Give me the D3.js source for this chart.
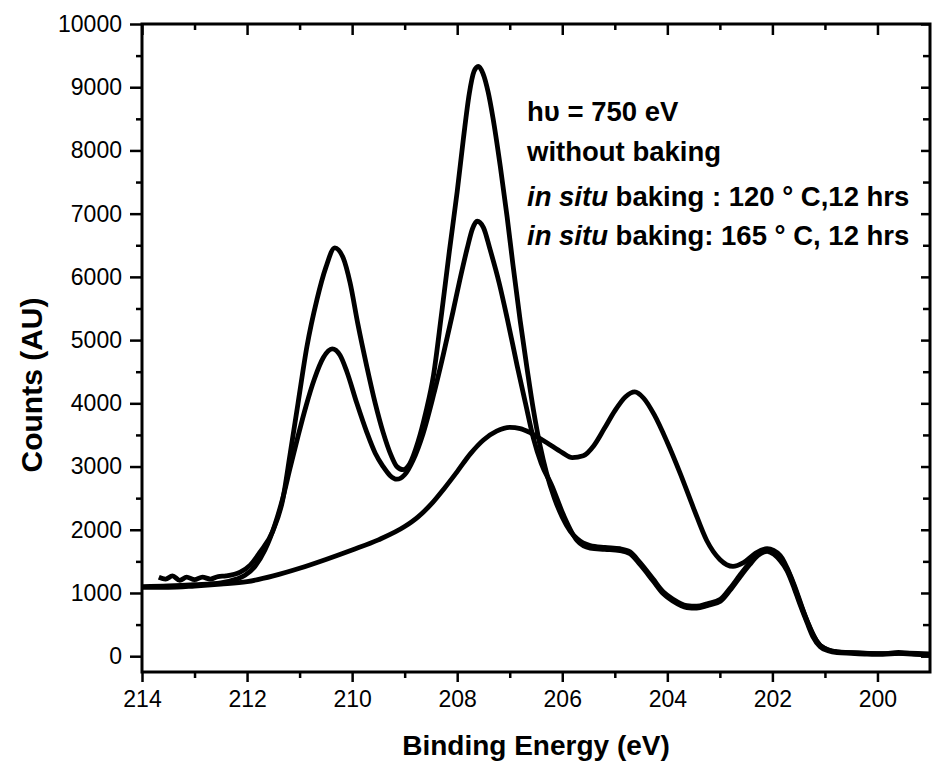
<!DOCTYPE html>
<html>
<head>
<meta charset="utf-8">
<script src="https://cdn.jsdelivr.net/npm/d3@7"></script>
<style>
  body { margin: 0; background: #fff; }
  svg { display: block; font-family: "Liberation Sans", Arial, sans-serif; }
</style>
</head>
<body>
<div class="spectrum"></div>
<script>
// Spectra: binding energy (eV) and counts.
var energyWithout = [214.0, 213.5, 213.0, 212.5, 212.0, 211.5, 211.0, 210.5, 210.0, 209.5, 209.0, 208.75, 208.5, 208.25,
  208.0, 207.75, 207.5, 207.25, 207.0, 206.8, 206.6, 206.3, 206.0, 205.81, 205.6, 205.4, 205.2, 205.0, 204.8, 204.62,
  204.45, 204.25, 204.0, 203.75, 203.5, 203.25, 203.0, 202.75, 202.55, 202.3, 202.1, 201.85, 201.61, 201.34, 201.09,
  200.77, 200.3, 199.8, 199.4, 199.0];
var countsWithout = [1090, 1090, 1110, 1140, 1180, 1270, 1390, 1530, 1680, 1840, 2050, 2200, 2400, 2650,
  2920, 3200, 3420, 3560, 3620, 3600, 3530, 3380, 3220, 3140, 3170, 3330, 3600, 3880, 4100, 4180,
  4080, 3820, 3380, 2880, 2340, 1830, 1530, 1420, 1480, 1640, 1700, 1590, 1180, 560, 170,
  70, 50, 40, 50, 30];

var energy120 = [214.0, 213.5, 213.0, 212.5, 212.2, 212.04, 211.85, 211.66, 211.47, 211.32, 211.18, 211.03, 210.88, 210.72,
  210.55, 210.38, 210.23, 210.1, 209.91, 209.72, 209.56, 209.41, 209.28, 209.15, 209.0, 208.84, 208.65, 208.46, 208.27,
  208.08, 207.95, 207.81, 207.71, 207.62, 207.5, 207.38, 207.2, 207.05, 206.86, 206.7, 206.55, 206.4, 206.2, 205.98, 205.72,
  205.47, 205.19, 204.9, 204.71, 204.52, 204.27, 204.08, 203.89, 203.63, 203.44, 203.24, 202.99, 202.81, 202.62, 202.43,
  202.28, 202.1, 201.97, 201.85, 201.72, 201.61, 201.48, 201.34, 201.23, 201.09, 200.94, 200.77, 200.5, 200.2, 199.9,
  199.6, 199.3, 199.0];
var counts120 = [1100, 1110, 1130, 1160, 1220, 1280, 1420, 1680, 2080, 2500, 2980, 3480, 3950, 4380,
  4720, 4860, 4760, 4500, 4000, 3540, 3210, 3000, 2860, 2800, 2870, 3100, 3520, 4100, 4750,
  5450, 5950, 6450, 6760, 6880, 6780, 6450, 5900, 5350, 4600, 4000, 3450, 3050, 2700, 2240, 1830,
  1710, 1690, 1670, 1620, 1450, 1190, 990, 870, 770, 760, 800, 870, 1040, 1250, 1450,
  1590, 1660, 1610, 1510, 1350, 1130, 830, 530, 310, 150, 85, 55, 45, 35, 30,
  45, 30, 25];

var energy165 = [213.68, 213.55, 213.42, 213.28, 213.15, 213.0, 212.85, 212.7, 212.55, 212.4, 212.13, 211.94, 211.75,
  211.51, 211.32, 211.18, 211.03, 210.86, 210.67, 210.5, 210.33, 210.17, 210.04, 209.89, 209.72, 209.56, 209.41, 209.26,
  209.15, 209.03, 208.9, 208.75, 208.6, 208.45, 208.3, 208.15, 208.0, 207.88, 207.77, 207.68, 207.6, 207.51, 207.41,
  207.32, 207.18, 207.05, 206.94, 206.8, 206.67, 206.55, 206.42, 206.3, 206.15, 206.0, 205.85, 205.72, 205.47, 205.19, 204.9,
  204.71, 204.52, 204.27, 204.08, 203.89, 203.63, 203.44, 203.24, 202.99, 202.81, 202.62, 202.43, 202.28, 202.1, 201.97,
  201.85, 201.72, 201.61, 201.48, 201.34, 201.23, 201.09, 200.94, 200.77, 200.5, 200.2, 199.9, 199.6, 199.3, 199.0];
var counts165 = [1250, 1220, 1270, 1200, 1250, 1210, 1250, 1220, 1260, 1270, 1330, 1440, 1650,
  1980, 2480, 3200, 4000, 4900, 5640, 6150, 6460, 6300, 5910, 5250, 4580, 4000, 3540, 3180,
  3000, 2950, 3050, 3380, 3850, 4450, 5400, 6400, 7350, 8200, 8900, 9250, 9330, 9220, 8920,
  8520, 7750, 6950, 6200, 5300, 4550, 3900, 3320, 2900, 2500, 2200, 1980, 1860, 1750, 1720, 1700,
  1650, 1480, 1220, 1020, 900, 800, 790, 830, 900, 1070, 1280, 1480, 1620, 1690, 1640,
  1540, 1380, 1160, 860, 560, 340, 170, 100, 70, 55, 45, 40, 60, 40, 35];

var xMajorTicks = [214, 212, 210, 208, 206, 204, 202, 200];
var xMinorTicks = [213, 211, 209, 207, 205, 203, 201];
var yMajorTicks = [0, 1000, 2000, 3000, 4000, 5000, 6000, 7000, 8000, 9000, 10000];
var yMinorTicks = [500, 1500, 2500, 3500, 4500, 5500, 6500, 7500, 8500, 9500];

// Legend text only, each line split into [text, italic] pieces.
var legendLines = [
  [["h\u03c5 = 750 eV", false]],
  [["without baking", false]],
  [["in situ", true], [" baking : 120 \u00b0 C,12 hrs", false]],
  [["in situ", true], [" baking: 165 \u00b0 C, 12 hrs", false]]
];

var w = 932,
    h = 763;

// Plot frame edges (window.top is reserved, so use other names).
var plotLeft = 142, plotRight = 930, plotTop = 24, plotBottom = 672;

var svg = d3.select(".spectrum").append("svg")
  .attr("width", w)
  .attr("height", h);

var xScale = d3.scaleLinear()
  .domain([214, 199])
  .range([plotLeft, plotRight]);

var yScale = d3.scaleLinear()
  .domain([-250, 10000])
  .range([plotBottom, plotTop]);

// Draw the three spectra.
function zipSeries(energy, counts) {
  return energy.map(function(e, i) { return { e: e, c: counts[i] }; });
}

var line = d3.line()
  .x(function(d) { return xScale(d.e); })
  .y(function(d) { return yScale(d.c); })
  .curve(d3.curveMonotoneX);

var series = [
  zipSeries(energyWithout, countsWithout),
  zipSeries(energy120, counts120),
  zipSeries(energy165, counts165)
];

svg.append("defs").append("clipPath")
  .attr("id", "plotClip")
  .append("rect")
  .attr("x", plotLeft)
  .attr("y", plotTop)
  .attr("width", plotRight - plotLeft)
  .attr("height", plotBottom - plotTop);

svg.append("g")
  .attr("clip-path", "url(#plotClip)")
  .selectAll("path")
  .data(series)
  .enter()
  .append("path")
  .attr("d", line)
  .attr("fill", "none")
  .attr("stroke", "#000")
  .attr("stroke-width", 4.8)
  .attr("stroke-linejoin", "round");

// Axes: outward ticks on bottom/left, inward ticks on top/right.
function addAxis(axis, transform, labels) {
  var g = svg.append("g")
    .attr("transform", transform)
    .call(axis);
  g.select(".domain").remove();
  g.selectAll(".tick line").attr("stroke", "#000").attr("stroke-width", 2.5);
  g.selectAll(".tick text")
    .attr("fill", "#000")
    .style("font-size", "23px")
    .style("font-family", "'Liberation Sans', Arial, sans-serif");
  if (!labels) g.selectAll(".tick text").remove();
  return g;
}

addAxis(d3.axisBottom(xScale).tickValues(xMajorTicks).tickSize(10).tickPadding(9).tickFormat(d3.format("d")),
  "translate(0," + plotBottom + ")", true);
addAxis(d3.axisBottom(xScale).tickValues(xMinorTicks).tickSize(6), "translate(0," + plotBottom + ")", false);
addAxis(d3.axisBottom(xScale).tickValues(xMajorTicks).tickSize(11), "translate(0," + plotTop + ")", false);
addAxis(d3.axisBottom(xScale).tickValues(xMinorTicks).tickSize(6), "translate(0," + plotTop + ")", false);

addAxis(d3.axisLeft(yScale).tickValues(yMajorTicks).tickSize(12).tickPadding(8).tickFormat(d3.format("d")),
  "translate(" + plotLeft + ",0)", true);
addAxis(d3.axisLeft(yScale).tickValues(yMinorTicks).tickSize(6), "translate(" + plotLeft + ",0)", false);
addAxis(d3.axisLeft(yScale).tickValues(yMajorTicks).tickSize(9), "translate(" + plotRight + ",0)", false);
addAxis(d3.axisLeft(yScale).tickValues(yMinorTicks).tickSize(7), "translate(" + plotRight + ",0)", false);

// Frame.
svg.append("rect")
  .attr("x", plotLeft)
  .attr("y", plotTop)
  .attr("width", plotRight - plotLeft)
  .attr("height", plotBottom - plotTop)
  .attr("fill", "none")
  .attr("stroke", "#000")
  .attr("stroke-width", 3);

// Axis titles.
svg.append("text")
  .attr("x", (plotLeft + plotRight) / 2)
  .attr("y", 755)
  .style("text-anchor", "middle")
  .style("font-size", "28px")
  .style("font-weight", "bold")
  .text("Binding Energy (eV)");

svg.append("text")
  .attr("transform", "translate(42," + 385 + ") rotate(-90)")
  .style("text-anchor", "middle")
  .style("font-size", "30px")
  .style("font-weight", "bold")
  .text("Counts (AU)");

// Legend.
var legendY = [121, 161, 206, 245];
var legend = svg.append("g");
legendLines.forEach(function(parts, i) {
  var t = legend.append("text")
    .attr("x", 527)
    .attr("y", legendY[i])
    .style("font-size", "27.5px")
    .style("font-weight", "bold");
  parts.forEach(function(p) {
    t.append("tspan")
      .style("font-style", p[1] ? "italic" : "normal")
      .text(p[0]);
  });
});
</script>
</body>
</html>
